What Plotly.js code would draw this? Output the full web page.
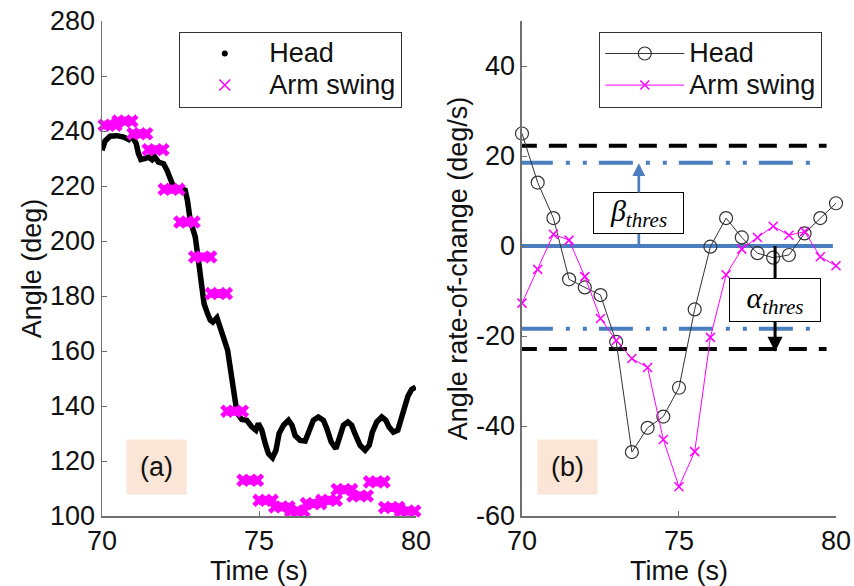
<!DOCTYPE html>
<html>
<head>
<meta charset="utf-8">
<script src="https://cdn.plot.ly/plotly-3.0.1.min.js"></script>
<style>html,body{margin:0;padding:0;background:#fff;}#chart{width:854px;height:586px;}</style>
</head>
<body>
<div id="chart"></div>
<script>
// ---------- (a) Angle ----------
const headT = [70.0,70.1,70.26,70.48,70.69,70.85,70.95,71.09,71.16,71.24,71.38,71.48,71.59,71.67,71.8,71.96,72.07,72.17,72.28,72.49,72.65,72.72,72.81,72.97,73.04,73.1,73.18,73.25,73.36,73.45,73.53,73.66,73.76,73.89,74.0,74.08,74.17,74.24,74.3,74.45,74.61,74.77,74.9,74.98,75.09,75.2,75.3,75.43,75.54,75.64,75.78,75.94,76.05,76.15,76.31,76.47,76.6,76.73,76.89,77.05,77.16,77.3,77.45,77.58,77.69,77.83,77.95,78.08,78.22,78.38,78.51,78.61,78.75,78.91,79.04,79.14,79.28,79.42,79.52,79.63,79.74,79.86,79.99];
const headAngle = [233.0,236.4,238.1,238.3,237.8,236.9,238.5,235.4,231.8,229.6,230.0,230.5,229.6,230.8,228.7,228.1,225.7,222.1,219.6,219.1,218.4,214.8,207.5,201.5,196.6,190.5,183.3,177.2,173.6,171.2,170.5,172.1,168.7,163.9,160.3,154.2,148.1,143.3,137.5,135.1,134.8,132.4,131.2,133.6,131.2,126.3,122.7,121.2,123.9,130.0,133.0,134.8,133.0,129.3,127.5,127.3,130.5,134.8,136.0,134.8,131.8,126.9,124.5,128.7,133.0,134.2,133.0,129.3,125.7,123.9,125.7,130.5,134.2,136.0,134.8,132.4,130.5,131.2,134.8,139.6,143.5,146.0,146.9];
// arm swing angle: held values over short windows
const armStart = [70.07,70.51,70.99,71.47,71.98,72.48,72.95,73.48,73.98,74.49,75.0,75.5,76.01,76.51,77.0,77.49,77.99,78.52,79.0,79.51];
const armEnd   = [70.44,70.95,71.42,71.94,72.45,72.93,73.46,73.96,74.47,74.95,75.42,75.95,76.43,76.96,77.46,77.95,78.45,78.98,79.45,79.96];
const armAngle = [242.1,243.6,239.0,233.2,218.8,206.9,194.2,180.9,138.1,113.0,105.7,103.3,101.8,104.5,105.7,109.6,107.3,112.4,103.1,101.8];

// ---------- (b) Angle rate-of-change ----------
const rateT = [70,70.5,71,71.5,72,72.5,73,73.5,74,74.5,75,75.5,76,76.5,77,77.5,78,78.5,79,79.5,80];
const headRate = [25.0,14.1,6.2,-7.4,-9.2,-10.9,-21.3,-45.8,-40.4,-37.9,-31.5,-14.1,-0.15,6.2,1.9,-1.6,-2.6,-2.0,2.8,6.2,9.5];
const armRate = [-12.7,-5.2,2.6,1.3,-6.8,-16.1,-21.0,-25.0,-27.0,-43.0,-53.5,-45.7,-20.3,-6.4,-0.7,1.9,4.4,2.4,3.2,-2.4,-4.4];
const alphaLines = [22.3, -22.9];
const betaLines = [18.5, -18.4];
const betaArrowTip = 18.4;
const alphaArrowTip = -23.5;

const seriesNames = ['Head', 'Arm swing'];
const xTickVals = [70, 75, 80];
const rateTickVals = [-60, -40, -20, 0, 20, 40];
const rateTickText = ['-60', '-40', '-20', '0', '20', '40'];

const MAG = '#ff00ff';
const BLUE = '#4a7ebf';
const FONT = 'Liberation Sans, Arial, sans-serif';
const legName = s => '<span style="font-size:27px">' + s + '</span>';

// build arm segments
const segX = [], segY = [];
armStart.forEach((s, i) => { segX.push(s, armEnd[i], null); segY.push(armAngle[i], armAngle[i], null); });

const traces = [
  {x: headT, y: headAngle, xaxis: 'x', yaxis: 'y', mode: 'lines', line: {color: '#000', width: 5.5},
   showlegend: false, hoverinfo: 'skip'},
  {x: segX, y: segY, xaxis: 'x', yaxis: 'y', mode: 'lines+markers', connectgaps: false,
   line: {color: MAG, width: 9}, marker: {symbol: 'x', size: 12, color: MAG}, cliponaxis: false,
   showlegend: false},
  {x: [null], y: [null], xaxis: 'x', yaxis: 'y', mode: 'markers', name: legName(seriesNames[0]), legend: 'legend',
   marker: {color: '#000', size: 6}},
  {x: [null], y: [null], xaxis: 'x', yaxis: 'y', mode: 'markers', name: legName(seriesNames[1]), legend: 'legend',
   marker: {symbol: 'x-thin', size: 11, color: MAG, line: {color: MAG, width: 1.5}}},
  {x: rateT, y: headRate, xaxis: 'x2', yaxis: 'y2', mode: 'lines+markers', name: legName(seriesNames[0]), legend: 'legend2',
   line: {color: '#333', width: 1}, marker: {symbol: 'circle-open', size: 13, color: '#333', line: {width: 1.2}},
   cliponaxis: false},
  {x: rateT, y: armRate, xaxis: 'x2', yaxis: 'y2', mode: 'lines+markers', name: legName(seriesNames[1]), legend: 'legend2',
   line: {color: MAG, width: 1}, marker: {symbol: 'x-thin', size: 9, color: MAG, line: {color: MAG, width: 1.5}},
   cliponaxis: false}
];

const axisCommon = {
  showline: true, linecolor: '#707070', linewidth: 1.5, mirror: false,
  ticks: 'inside', ticklen: 5, tickwidth: 1, tickcolor: '#707070',
  showgrid: false, zeroline: false, tickfont: {family: FONT, size: 27, color: '#111'}, fixedrange: true
};

const shapes = [];
betaLines.forEach(v => shapes.push({type: 'line', xref: 'x2', yref: 'y2', x0: 69.9, x1: 79.55, y0: v, y1: v,
  layer: 'below', line: {color: BLUE, width: 4, dash: '34px,13px,4px,13px,4px,12px'}}));
alphaLines.forEach(v => shapes.push({type: 'line', xref: 'x2', yref: 'y2', x0: 69.9, x1: 79.7, y0: v, y1: v,
  layer: 'below', line: {color: '#000', width: 4, dash: '18px,12px'}}));
shapes.push({type: 'line', xref: 'x2', yref: 'y2', x0: 69.9, x1: 79.9, y0: 0, y1: 0, layer: 'below',
  line: {color: BLUE, width: 4}});
// arrow stems from zero line up to the text boxes
shapes.push({type: 'line', xref: 'x2', yref: 'y2', x0: 73.72, x1: 73.72, y0: 0, y1: 7.33, layer: 'above',
  line: {color: BLUE, width: 2.7}});
shapes.push({type: 'line', xref: 'x2', yref: 'y2', x0: 78.06, x1: 78.06, y0: 0, y1: -12.07, layer: 'above',
  line: {color: '#000', width: 3}});

const annotations = [
  {xref: 'x2', yref: 'y2', axref: 'x2', ayref: 'y2', x: 73.72, y: betaArrowTip, ax: 73.72, ay: 7.33,
   text: '<i>β</i><sub><i>thres</i></sub>', showarrow: true, arrowhead: 2, arrowsize: 0.95, arrowwidth: 2.7,
   arrowcolor: BLUE, standoff: 0,
   font: {family: 'Liberation Serif, DejaVu Serif, serif', size: 30, color: '#000'},
   bgcolor: '#fff', bordercolor: '#000', borderwidth: 1, borderpad: 1, width: 87, height: 38},
  {xref: 'x2', yref: 'y2', axref: 'x2', ayref: 'y2', x: 78.06, y: alphaArrowTip, ax: 78.06, ay: -12.07,
   text: '<i>α</i><sub><i>thres</i></sub>', showarrow: true, arrowhead: 2, arrowsize: 1, arrowwidth: 3,
   arrowcolor: '#000', standoff: 0,
   font: {family: 'Liberation Serif, DejaVu Serif, serif', size: 30, color: '#000'},
   bgcolor: '#fff', bordercolor: '#000', borderwidth: 1, borderpad: 1, width: 88, height: 40},
  {xref: 'x', yref: 'y', x: 71.75, y: 117.7, text: '(a)', showarrow: false,
   font: {family: FONT, size: 27, color: '#111'}, bgcolor: '#fbe5d6', width: 57, height: 52},
  {xref: 'x2', yref: 'y2', x: 71.45, y: -49.1, text: '(b)', showarrow: false,
   font: {family: FONT, size: 27, color: '#111'}, bgcolor: '#fbe5d6', width: 57, height: 52}
];

const legendCommon = {xanchor: 'left', yanchor: 'top', bordercolor: '#333', borderwidth: 1, bgcolor: '#fff',
  font: {family: FONT, size: 22, color: '#111'}, itemwidth: 79, tracegroupgap: 0};

const layout = {
  width: 854, height: 586, margin: {l: 102, r: 18, t: 21, b: 70},
  paper_bgcolor: '#fff', plot_bgcolor: 'rgba(0,0,0,0)',
  font: {family: FONT, size: 27, color: '#111'},
  xaxis: Object.assign({}, axisCommon, {domain: [0, 0.4278], range: [70, 80], tickvals: xTickVals, anchor: 'y',
    title: {text: 'Time (s)', standoff: 6, font: {family: FONT, size: 27, color: '#111'}}}),
  yaxis: Object.assign({}, axisCommon, {domain: [0, 1], range: [100, 280], dtick: 20, anchor: 'x',
    title: {text: 'Angle (deg)', standoff: 0, font: {family: FONT, size: 27, color: '#111'}}}),
  xaxis2: Object.assign({}, axisCommon, {domain: [0.5722, 1], range: [70, 80], tickvals: xTickVals, anchor: 'y2',
    title: {text: 'Time (s)', standoff: 6, font: {family: FONT, size: 27, color: '#111'}}}),
  yaxis2: Object.assign({}, axisCommon, {domain: [0, 1], range: [-60, 50], tickvals: rateTickVals,
    ticktext: rateTickText, anchor: 'x2',
    title: {text: 'Angle rate-of-change (deg/s)', standoff: 0, font: {family: FONT, size: 27, color: '#111'}}}),
  legend: Object.assign({}, legendCommon, {x: 0.1053, y: 0.9784}),
  legend2: Object.assign({}, legendCommon, {x: 0.6775, y: 0.9784}),
  shapes: shapes,
  annotations: annotations,
  showlegend: true
};

Plotly.newPlot('chart', traces, layout, {displayModeBar: false, staticPlot: true});
</script>
</body>
</html>
